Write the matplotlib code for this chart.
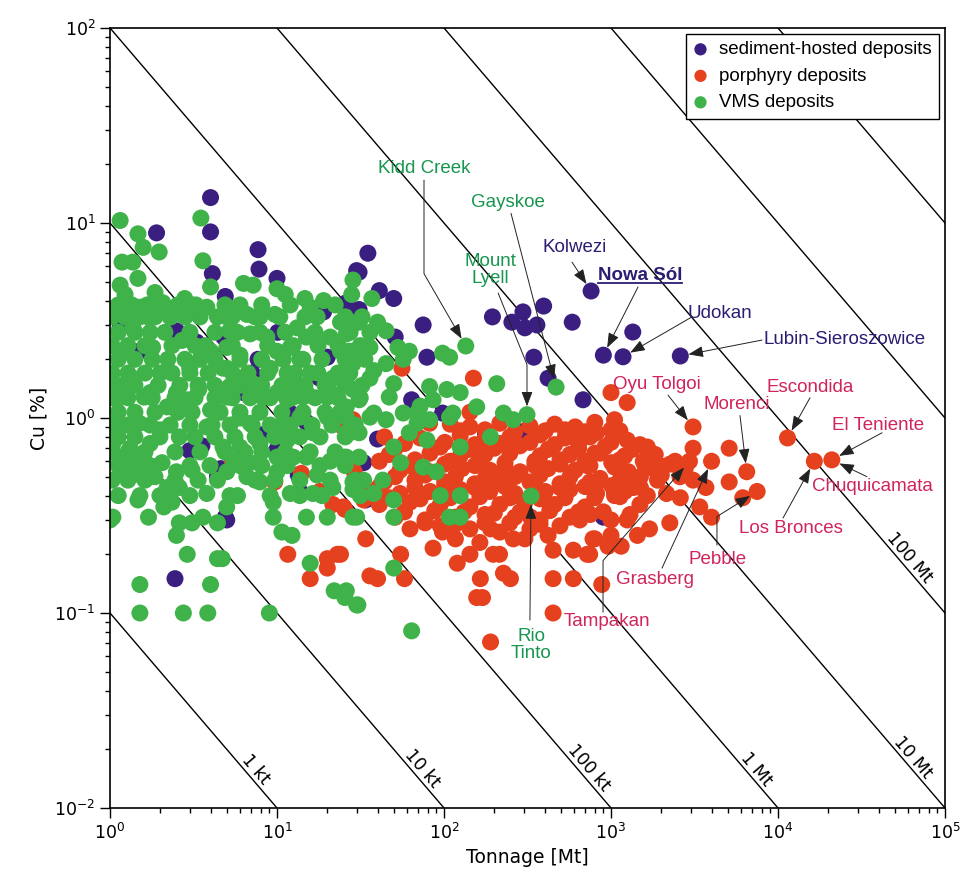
import math
import matplotlib
matplotlib.use("Agg")
import matplotlib.pyplot as plt
from matplotlib.lines import Line2D
from matplotlib.transforms import IdentityTransform

# (tonnage [Mt], Cu [%])
sediment = [
    (4, 13.5), (1.9, 8.9), (4, 9.0), (7.7, 7.3), (7.8, 5.8), (35, 7.0), (4.1, 5.5), (4.9, 4.2),
    (3.3, 2.45), (1.15, 2.9), (1.5, 2.2), (2.5, 2.8), (2.8, 3.4), (10, 5.2), (19, 3.5), (10.1, 2.75),
    (26, 3.9), (30, 5.7), (7.7, 2.0), (7.1, 1.7), (6.3, 1.35), (18, 1.6), (20, 2.05), (4.8, 2.6),
    (31, 5.6), (41, 4.5), (50, 4.1), (31, 3.6), (75, 3.0), (79, 2.05), (51, 2.6), (64, 1.24),
    (98, 1.06), (195, 3.3), (255, 3.1), (297, 3.5), (305, 2.9), (360, 3.0), (395, 3.75), (345, 2.05),
    (586, 3.1), (760, 4.48), (900, 2.1), (1180, 2.06), (1350, 2.76), (680, 1.24), (420, 1.6),
    (2600, 2.08), (295, 0.85), (177, 0.84), (900, 0.31), (1050, 0.42), (3.0, 0.68), (3.55, 0.72),
    (4.4, 0.5), (5.0, 0.3), (2.45, 0.15), (8.1, 0.82), (10, 0.69), (13.4, 0.51), (13.7, 0.42),
    (12, 1.06), (15, 0.95), (4.9, 0.31), (4.6, 0.55), (40, 0.78), (180, 0.71), (33, 0.59), (34, 0.38),
]

porphyry = [
    (24, 0.92), (5.4, 0.6), (9.7, 0.47), (14, 0.52), (18, 0.42), (21.6, 0.36), (25, 0.35), (11.6, 0.2),
    (20, 0.19), (23, 0.2), (20, 0.17), (15.8, 0.15), (28.5, 0.98), (29, 0.53),
    (150, 1.6), (56, 1.8), (143, 1.07), (82, 0.94),
    (34, 0.24), (55, 0.2), (86, 0.215), (98, 0.26), (36, 0.155), (40, 0.15), (58, 0.15), (120, 0.18),
    (143, 0.2), (165, 0.15), (157, 0.12), (170, 0.12), (227, 0.16), (250, 0.15), (190, 0.071),
    (197, 0.2), (24, 0.2), (25.5, 0.34), (33, 0.38),
    (450, 0.15), (595, 0.15), (880, 0.14), (450, 0.1), (450, 0.21), (595, 0.21), (745, 0.2),
    (800, 0.24), (960, 0.22), (1150, 0.22), (1440, 0.25), (1700, 0.27), (2250, 0.29), (3400, 0.35),
    (4000, 0.31), (1250, 0.3), (650, 0.3), (330, 0.31), (260, 0.24), (215, 0.2), (190, 0.27),
    (1000, 1.35), (1250, 1.2), (1050, 0.98), (3100, 0.9), (3100, 0.7), (4000, 0.6), (5100, 0.7),
    (6500, 0.53), (5100, 0.47), (6150, 0.39), (7500, 0.42), (11400, 0.79), (16500, 0.6), (21000, 0.61),
    (2950, 0.6), (2500, 0.57), (3100, 0.48), (3700, 0.44), (2600, 0.39), (780, 0.24), (720, 0.2),
    (1650, 0.71), (1560, 0.6), (1900, 0.48), (1360, 0.44), (1050, 0.4), (860, 0.48), (720, 0.57),
    (650, 0.77), (820, 0.84), (1000, 0.87), (1250, 0.77), (1500, 0.5), (1130, 0.61), (860, 0.66),
    (1970, 0.57), (2150, 0.41), (1650, 0.4), (1300, 0.32), (1000, 0.3), (750, 0.32), (1000, 0.25),
    # dense band
    (109, 0.93), (143, 0.9), (216, 0.94), (327, 0.91), (460, 0.93), (610, 0.9), (800, 0.95),
    (44, 0.8), (72, 0.79), (125, 0.81), (176, 0.78), (248, 0.8), (376, 0.82), (530, 0.79), (748, 0.8),
    (51, 0.7), (95, 0.71), (143, 0.69), (200, 0.7), (285, 0.72), (420, 0.69), (640, 0.7), (920, 0.71), (1340, 0.69),
    (41, 0.6), (67, 0.61), (109, 0.6), (164, 0.62), (232, 0.59), (350, 0.6), (495, 0.61), (700, 0.6),
    (1010, 0.59), (2420, 0.6),
    (54.5, 0.54), (82.5, 0.53), (128, 0.55), (188, 0.54), (285, 0.53), (420, 0.55), (610, 0.54),
    (1270, 0.53), (1840, 0.54), (2780, 0.55),
    (44, 0.47), (67, 0.48), (101, 0.47), (153, 0.46), (216, 0.48), (327, 0.47), (495, 0.46), (748, 0.47), (1130, 0.48),
    (36, 0.42), (54.5, 0.41), (82.5, 0.42), (125, 0.43), (188, 0.42), (266, 0.41), (404, 0.42), (568, 0.43),
    (820, 0.41), (1210, 0.42),
    (41, 0.36), (62.6, 0.37), (95, 0.36), (143, 0.35), (216, 0.36), (305, 0.37), (460, 0.36), (700, 0.35), (1490, 0.36),
    (51, 0.31), (77, 0.3), (117, 0.31), (176, 0.32), (266, 0.31), (376, 0.3), (568, 0.31),
    (62.6, 0.27), (95, 0.28), (143, 0.27), (216, 0.26), (327, 0.27), (495, 0.28),
    (117, 0.24), (164, 0.23), (305, 0.24), (420, 0.25),
    (125, 0.86), (176, 0.87), (266, 0.85), (404, 0.86), (530, 0.87), (700, 0.85), (1130, 0.86),
    (58, 0.74), (101, 0.75), (153, 0.73), (216, 0.74), (327, 0.75), (460, 0.73), (640, 0.74), (1000, 0.75), (1490, 0.73),
    (47, 0.65), (82.5, 0.66), (125, 0.64), (176, 0.65), (248, 0.66), (376, 0.64), (568, 0.65), (800, 0.66),
    (1210, 0.64), (1840, 0.65),
    (62.6, 0.57), (101, 0.58), (153, 0.57), (232, 0.56), (350, 0.57), (495, 0.58), (748, 0.57), (1050, 0.56),
    (1600, 0.57), (2256, 0.58),
    (51, 0.5), (77, 0.51), (117, 0.5), (176, 0.49), (266, 0.5), (376, 0.51), (568, 0.5), (860, 0.49),
    (1300, 0.5), (2000, 0.51), (2590, 0.5),
    (41, 0.445), (67, 0.44), (101, 0.45), (153, 0.44), (232, 0.445), (350, 0.45), (495, 0.44), (700, 0.445),
    (1010, 0.45), (1500, 0.44),
    (47, 0.39), (72, 0.385), (109, 0.39), (164, 0.395), (248, 0.39), (376, 0.385), (530, 0.39), (800, 0.39), (1132, 0.395),
    (58, 0.33), (88, 0.335), (132, 0.33), (200, 0.325), (285, 0.33), (430, 0.335), (640, 0.33), (900, 0.33),
    (77, 0.29), (117, 0.285), (176, 0.29), (248, 0.29), (376, 0.285),
]

vms = [
    (1.15, 10.3), (3.5, 10.6), (1.47, 8.8), (1.58, 7.5), (1.97, 7.1), (1.18, 6.3), (1.37, 6.3), (3.6, 6.4),
    (1.47, 5.2), (4.0, 4.7), (1.15, 4.8), (1.23, 4.3), (1.86, 4.4), (2.07, 3.9), (1.51, 3.7), (2.8, 4.1),
    (3.1, 3.8), (3.8, 3.7), (4.4, 3.3), (1.69, 3.3), (1.37, 2.9), (2.3, 3.3), (1.2, 2.2), (1.8, 2.3),
    (2.7, 2.5), (4.0, 2.2), (4.75, 1.8), (1.37, 1.6), (2.0, 1.7), (3.0, 1.8), (1.15, 1.4), (1.74, 1.35),
    (2.5, 1.35), (3.4, 1.4), (4.5, 1.35),
    (1.1, 1.25), (1.6, 1.28), (2.2, 1.14), (2.9, 1.24), (4.0, 1.1), (1.15, 0.9), (1.5, 0.94), (2.0, 0.87),
    (2.6, 0.8), (3.8, 0.9), (1.04, 0.74), (1.32, 0.7), (1.74, 0.74), (1.15, 0.6), (1.45, 0.6), (2.05, 0.59),
    (1.2, 0.51), (1.51, 0.51), (1.86, 0.5), (2.5, 0.53), (3.1, 0.54), (2.2, 0.44), (2.6, 0.44), (1.47, 0.38),
    (2.1, 0.35), (2.35, 0.37), (3.8, 0.41), (1.04, 0.31), (1.7, 0.31), (2.6, 0.29), (3.1, 0.29), (3.6, 0.31),
    (4.4, 0.29), (2.5, 0.25), (2.9, 0.2), (4.4, 0.19), (1.51, 0.14), (4.0, 0.14), (1.51, 0.1), (2.75, 0.1),
    (3.85, 0.1), (9.0, 0.1), (1.0, 0.3),
    (6.3, 4.9), (7.2, 4.8), (10, 4.6), (11.2, 4.3), (14.7, 4.1), (19, 4.0), (15.8, 3.7), (17.4, 3.3),
    (28.5, 5.1), (28, 4.3), (24, 3.1), (30, 3.1), (5.0, 3.3), (6.6, 3.4), (7.9, 3.3), (9.7, 3.4),
    (5.2, 2.8), (6.9, 2.7), (8.7, 2.6), (13.2, 2.9), (15, 2.6), (20.8, 2.6), (26, 2.7), (5.0, 2.3),
    (6.0, 2.1), (10, 2.2), (12, 2.3), (13.7, 2.0), (24, 2.2), (28.5, 2.2), (5.0, 1.8), (9.1, 1.8),
    (11.5, 1.7), (15.8, 1.7), (21.6, 1.6), (27.3, 1.7), (5.2, 1.45), (7.2, 1.5), (10, 1.35), (12.5, 1.45),
    (15, 1.35), (20.8, 1.36), (28.5, 1.4),
    (5.0, 1.28), (8.2, 1.28), (11.5, 1.24), (14.3, 1.28), (20, 1.28), (20, 1.01), (26, 1.01), (6.9, 0.94),
    (6, 1.0), (10.4, 0.9), (13.7, 1.01), (16.4, 0.84), (27.3, 0.84), (6, 0.71), (7.9, 0.74), (11.5, 0.77),
    (4.75, 0.71), (5.5, 0.6), (6.9, 0.59), (10, 0.63), (12.5, 0.63), (15, 0.63), (20.8, 0.6), (26, 0.63),
    (5, 0.53), (6.6, 0.5), (7.9, 0.47), (10, 0.53), (17.4, 0.51), (21.6, 0.44), (28.5, 0.47), (5.8, 0.4),
    (9.5, 0.37), (12, 0.41), (16.4, 0.41), (5, 0.35), (9.5, 0.31), (15, 0.31), (20, 0.31), (28.5, 0.31),
    (10.7, 0.26), (12.3, 0.25), (15.8, 0.18), (22, 0.13), (25.5, 0.12), (30, 0.11), (4.7, 0.19),
    (37, 4.1), (26, 3.2), (31, 3.1), (40, 3.1), (45, 2.8), (27, 2.2), (36, 2.3), (53, 2.3), (62, 2.2),
    (98, 2.15), (108, 2.05), (135, 2.34), (28.5, 1.9), (38, 1.75), (45, 1.9), (57, 2.0), (26, 1.6),
    (36, 1.6), (50, 1.5), (82, 1.45), (104, 1.4), (125, 1.35), (47, 1.28), (31, 1.24), (72, 1.15),
    (86, 1.24), (113, 1.06), (57, 1.06), (38, 1.06), (69, 0.94),
    (26, 1.14), (36, 1.01), (45, 0.98), (69, 1.06), (82, 0.98), (108, 1.01), (157, 1.14), (227, 1.06),
    (260, 0.98), (26, 0.84), (31, 0.84), (50, 0.71), (62, 0.84), (79, 0.77), (125, 0.71), (190, 0.8),
    (25, 0.63), (31, 0.63), (55, 0.59), (75, 0.56), (90, 0.53), (33, 0.48), (43, 0.48), (28.5, 0.43),
    (38, 0.41), (50, 0.38), (95, 0.4), (125, 0.4), (30, 0.31), (50, 0.31), (108, 0.31), (125, 0.31),
    (50, 0.17), (26, 0.13), (30.5, 0.11), (64, 0.081),
    (469, 1.44), (314, 1.04), (332, 0.398), (207, 1.5),
    # dense core of the cluster
    (1.12, 3.8), (1.35, 3.8), (1.67, 3.8), (2.05, 3.8), (2.55, 3.8), (3.27, 3.8), (4.88, 3.8), (6.0, 3.8),
    (8.1, 3.8), (12.0, 3.8), (22.3, 3.8),
    (1.03, 3.3), (1.23, 3.3), (1.51, 3.3), (1.86, 3.3), (2.29, 3.3), (2.81, 3.3), (3.46, 3.3), (5.4, 3.3),
    (7.4, 3.3), (10.4, 3.3), (14.7, 3.3), (25.6, 3.3), (32.3, 3.3),
    (1.12, 2.75), (1.41, 2.75), (1.74, 2.75), (2.13, 2.75), (3.01, 2.75), (4.25, 2.75), (5.8, 2.75),
    (7.9, 2.75), (11.2, 2.75), (16.9, 2.75), (27.4, 2.75), (36, 2.75),
    (1.03, 2.35), (1.28, 2.35), (1.62, 2.35), (2.35, 2.35), (3.23, 2.35), (3.71, 2.35), (5.4, 2.35),
    (8.8, 2.35), (12.5, 2.35), (17.6, 2.35), (23.2, 2.35), (31.5, 2.35),
    (1.12, 2.0), (1.41, 2.0), (1.79, 2.0), (2.22, 2.0), (2.81, 2.0), (3.46, 2.0), (4.25, 2.0), (6.0, 2.0),
    (8.1, 2.0), (10.9, 2.0), (14.3, 2.0), (18.6, 2.0), (25.6, 2.0), (33.6, 2.0),
    (1.03, 1.7), (1.28, 1.7), (1.62, 1.7), (2.35, 1.7), (3.01, 1.7), (3.87, 1.7), (5.4, 1.7), (6.7, 1.7),
    (8.8, 1.7), (12.8, 1.7), (17.6, 1.7), (23.2, 1.7),
    (1.12, 1.47), (1.41, 1.47), (1.94, 1.47), (2.62, 1.47), (3.37, 1.47), (4.25, 1.47), (6.0, 1.47),
    (8.1, 1.47), (10.7, 1.47), (14.7, 1.47), (19.4, 1.47), (25.6, 1.47), (32.3, 1.47),
    (1.03, 1.27), (1.28, 1.27), (1.79, 1.27), (2.45, 1.27), (3.23, 1.27), (4.25, 1.27), (5.4, 1.27),
    (6.9, 1.27), (9.1, 1.27), (12.3, 1.27), (16.9, 1.27), (23.2, 1.27), (31.5, 1.27),
    (1.12, 1.07), (1.41, 1.07), (1.86, 1.07), (2.55, 1.07), (3.1, 1.07), (4.56, 1.07), (6.0, 1.07),
    (7.9, 1.07), (10.7, 1.07), (14.3, 1.07), (19.4, 1.07), (23.9, 1.07),
    (1.03, 0.92), (1.28, 0.92), (1.74, 0.92), (2.29, 0.92), (3.01, 0.92), (4.08, 0.92), (5.23, 0.92),
    (7.1, 0.92), (9.1, 0.92), (12.0, 0.92), (16.2, 0.92), (21.3, 0.92), (29.4, 0.92),
    (1.12, 0.8), (1.41, 0.8), (1.99, 0.8), (3.23, 0.8), (4.25, 0.8), (5.6, 0.8), (7.4, 0.8), (9.7, 0.8),
    (13.7, 0.8), (18.1, 0.8), (25.6, 0.8),
    (1.03, 0.67), (1.28, 0.67), (1.62, 0.67), (2.45, 0.67), (3.46, 0.67), (4.88, 0.67), (6.4, 0.67),
    (8.1, 0.67), (11.2, 0.67), (15.8, 0.67), (22.3, 0.67),
    (1.12, 0.57), (1.41, 0.57), (1.74, 0.57), (3.01, 0.57), (3.97, 0.57), (6.0, 0.57), (8.1, 0.57),
    (11.5, 0.57), (18.1, 0.57), (25.6, 0.57),
    (1.03, 0.48), (1.28, 0.48), (1.62, 0.48), (2.45, 0.48), (3.37, 0.48), (4.4, 0.48), (7.4, 0.48),
    (9.7, 0.48), (13.7, 0.48), (20.8, 0.48), (29.4, 0.48),
    (1.12, 0.4), (1.51, 0.4), (1.99, 0.4), (3.01, 0.4), (5.23, 0.4), (9.1, 0.4), (13.7, 0.4), (18.6, 0.4),
    (31.5, 0.4),
]

# contained copper (tonnage * grade) of the diagonal reference lines
metal_const = [0.1, 1, 10, 100, 1e3, 1e4, 1e5, 1e6]
metal_labels = ["1 kt", "10 kt", "100 kt", "1 Mt", "10 Mt", "100 Mt", None, None]
metal_label_cu = [0.0148, 0.0148, 0.015, 0.0148, 0.017, 0.18, None, None]

SED, POR, VMS = "#3a1f80", "#e6411e", "#3fb34a"
SED_T, POR_T, VMS_T = "#2b1d72", "#d0245a", "#17964f"

fig = plt.figure(figsize=(9.63, 8.83), dpi=100)
ax = fig.add_axes([110 / 963, 75 / 883, 835 / 963, 780 / 883])
ax.set_xscale("log")
ax.set_yscale("log")
ax.set_xlim(1, 1e5)
ax.set_ylim(1e-2, 1e2)

for k in metal_const:
    ax.plot([1e-3, 1e6], [k / 1e-3, k / 1e6], color="black", lw=1.0, zorder=1)

for name, pts, col in [("sediment-hosted deposits", sediment, SED),
                       ("porphyry deposits", porphyry, POR),
                       ("VMS deposits", vms, VMS)]:
    t, cu = zip(*pts)
    ax.scatter(t, cu, s=150, color=col, edgecolors="none", label=name, zorder=2)

# labels on the reference lines
for k, lab, ycu in zip(metal_const, metal_labels, metal_label_cu):
    if lab is None:
        continue
    x = k / ycu
    p1 = ax.transData.transform((x, ycu))
    p2 = ax.transData.transform((x * 2, ycu / 2))
    ang = math.degrees(math.atan2(p2[1] - p1[1], p2[0] - p1[0]))
    ax.text(x, ycu, lab, rotation=ang, rotation_mode="anchor", ha="center", va="bottom",
            fontsize=12.5, zorder=3)

tfont = dict(family="Liberation Sans", fontsize=13.5)
arrow_kw = dict(arrowstyle="-|>,head_length=0.45,head_width=0.17", color="#222222",
                lw=0.7, shrinkA=0, shrinkB=6, mutation_scale=20)

# name, text pos, colour, arrow start, arrow target, connection
labels = [
    ("Kidd Creek", (75.9, 19.1), VMS_T, [((75.9, 16.6), (135, 2.34), "angle,angleA=90,angleB=-60,rad=0")]),
    ("Gayskoe", (241, 12.7), VMS_T, [((252, 11.2), (469, 1.44), "arc3")]),
    ("Mount\nLyell", (189, 5.74), VMS_T, [((211, 4.37), (314, 1.04), "angle,angleA=-68,angleB=90,rad=0")]),
    ("Kolwezi", (609, 7.45), SED_T, [((584, 6.3), (760, 4.48), "arc3")]),
    ("Udokan", (4496, 3.45), SED_T, [((3055, 3.3), (1180, 2.06), "arc3")]),
    ("Lubin-Sieroszowice", (25200, 2.54), SED_T, [((8020, 2.51), (2600, 2.08), "arc3")]),
    ("Oyu Tolgoi", (1885, 1.48), POR_T, [((2195, 1.31), (3100, 0.9), "arc3")]),
    ("Escondida", (15550, 1.43), POR_T, [((15550, 1.27), (11400, 0.79), "arc3")]),
    ("Morenci", (5680, 1.17), POR_T, [((5920, 1.03), (6500, 0.53), "arc3")]),
    ("El Teniente", (39700, 0.92), POR_T, [((42000, 0.84), (21000, 0.61), "arc3")]),
    ("Chuquicamata", (36550, 0.448), POR_T, [((34100, 0.5), (21000, 0.61), "arc3")]),
    ("Los Bronces", (11970, 0.27), POR_T, [((10720, 0.307), (16500, 0.6), "arc3")]),
    ("Pebble", (4375, 0.187), POR_T, [((4310, 0.223), (7500, 0.42), "angle,angleA=90,angleB=32,rad=0")]),
    ("Grasberg", (1834, 0.148), POR_T, [((2020, 0.17), (4000, 0.6), "arc3")]),
    ("Tampakan", (946, 0.09), POR_T, [((896, 0.101), (2950, 0.6), "angle,angleA=90,angleB=49,rad=0")]),
    ("Rio\nTinto", (332, 0.0686), VMS_T, [((327, 0.092), (332, 0.398), "arc3")]),
]

for name, pos, col, arrows in labels:
    ax.text(pos[0], pos[1], name, color=col, ha="center", va="center", linespacing=1.05,
            zorder=5, **tfont)
    for start, target, cs in arrows:
        ax.annotate("", xy=target, xytext=start,
                    arrowprops=dict(connectionstyle=cs, **arrow_kw), zorder=4)

nowa = ax.text(1492, 5.35, "Nowa Sól", color=SED_T, ha="center", va="center", fontweight="bold",
               zorder=5, **tfont)
ax.annotate("", xy=(900, 2.1), xytext=(1452, 4.7), arrowprops=dict(connectionstyle="arc3", **arrow_kw))

ax.set_xlabel("Tonnage [Mt]", fontsize=13.5)
ax.set_ylabel("Cu [%]", fontsize=13.5)
ax.tick_params(which="both", direction="out", top=False, right=False, labelsize=12.5, width=1)
ax.tick_params(which="major", length=7)
ax.tick_params(which="minor", length=3.5)
for sp in ax.spines.values():
    sp.set_linewidth(1.2)

leg = ax.legend(loc="upper right", prop={"family": "Liberation Sans", "size": 13.5},
                frameon=True, fancybox=False, framealpha=1, edgecolor="black",
                borderaxespad=0.3, handlelength=0.8, handletextpad=0.6, markerscale=0.72)
leg.get_frame().set_linewidth(1.0)
leg.set_zorder(10)

# underline "Nowa Sól"
fig.canvas.draw()
bb = nowa.get_window_extent(fig.canvas.get_renderer())
fig.add_artist(Line2D([bb.x0, bb.x1], [bb.y0 + 1, bb.y0 + 1], color=SED_T, lw=1.3,
                      transform=IdentityTransform()))

fig.savefig("out.png", dpi=100)
